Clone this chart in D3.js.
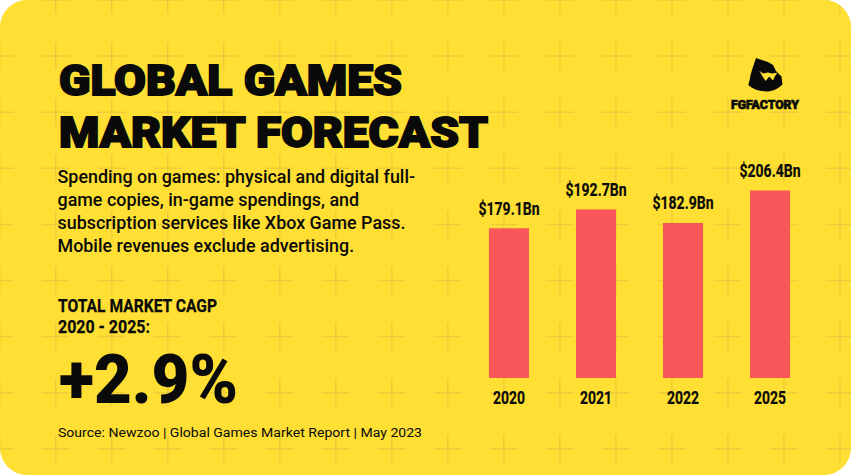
<!DOCTYPE html>
<html><head><meta charset="utf-8">
<script src="https://cdn.jsdelivr.net/npm/d3@7/dist/d3.min.js"></script>
<style>html,body{margin:0;padding:0;background:#fff}svg{display:block}</style>
</head><body><svg id="c" width="851" height="475"></svg>
<script>
const years = ["2020","2021","2022","2025"];
const values = [179.1,192.7,182.9,206.4];
const valueLabels = ["$179.1Bn","$192.7Bn","$182.9Bn","$206.4Bn"];
const titleLines = ["GLOBAL GAMES","MARKET FORECAST"];
const bodyLines = ["Spending on games: physical and digital full-","game copies, in-game spendings, and","subscription services like Xbox Game Pass.","Mobile revenues exclude advertising."];
const cagpLines = ["TOTAL MARKET CAGP","2020 - 2025:"];
const cagpValue = "+2.9%";
const source = "Source: Newzoo | Global Games Market Report | May 2023";
const brand = "FGFACTORY";

const svg = d3.select("#c");
svg.append("clipPath").attr("id","panel").append("rect").attr("width",851).attr("height",475).attr("rx",27);
svg.append("rect").attr("width",851).attr("height",475).attr("rx",27).attr("fill","#FFDF33");
const grid = svg.append("g").attr("clip-path","url(#panel)").attr("stroke","#EDCC3A").attr("stroke-width",1.5).attr("fill","none");
d3.range(0,16).forEach(i=>d3.range(0,9).forEach(j=>{
  const cx=-0.3+56.02*i, cy=0+56.1*j;
  grid.append("path").attr("d",`M${cx-14},${cy}H${cx+14}M${cx},${cy-14}V${cy+14}`);
}));

const font="Roboto, sans-serif";
const ink="#0a0a0a";
function txt(s,x,y,size,weight,len,anchor,stroke){
  const t=svg.append("text").attr("x",x).attr("y",y).attr("font-family",font).attr("font-size",size)
    .attr("font-weight",weight).attr("fill",ink).attr("text-anchor",anchor||"start").text(s);
  if(len) t.attr("textLength",len).attr("lengthAdjust","spacingAndGlyphs");
  if(stroke) t.attr("stroke",ink).attr("stroke-width",stroke).attr("stroke-linejoin","miter");
  return t;
}
txt(titleLines[0],59,94.5,43,900,343,"start",1.8);
txt(titleLines[1],59,146.5,43,900,429,"start",1.8);
bodyLines.forEach((l,i)=>txt(l,57.5,183+i*23,17.9,500));
cagpLines.forEach((l,i)=>txt(l,58,312+i*21,18,700,i==0?159:92,"start",0.25));
txt(cagpValue,59,402.5,68,900,179);
txt(source,58,437,13.6,400,364);

const x=d3.scaleBand().domain(years).range([465.5,813.5]).paddingInner(0.54).paddingOuter(0.27);
const y=d3.scaleLinear().domain([70.8,206.4]).range([378,190.5]);
svg.selectAll("rect.bar").data(values).join("rect").attr("class","bar")
 .attr("x",(d,i)=>x(years[i])).attr("width",x.bandwidth())
 .attr("y",d=>y(d)).attr("height",d=>y(70.8)-y(d)).attr("fill","#F9575A");
values.forEach((d,i)=>{
  txt(valueLabels[i],x(years[i])+x.bandwidth()/2,y(d)-13.5,18,700,61,"middle",0.2);
  txt(years[i],x(years[i])+x.bandwidth()/2,404,18,700,32,"middle",0.2);
});
// logo
const logo=svg.append("g");
logo.append("path").attr("fill",ink).attr("d","M756,58 L768,62 L773,65 L776,71 L781.5,76.5 L782.5,84.5 C778,89 772,91.5 766.5,91.5 C759,91 752,89 748.3,85 C749.5,81 750,78 750.5,75 C752,70 753.5,65 756,58Z");
logo.append("path").attr("fill","#FFDF33").attr("d","M759.3,70.7 L763,73.5 L768,72.5 L772,73.5 L777.5,72.7 L775,76 L773,80.5 L769.3,76.5 L765.5,81 L762,75.5Z");
txt(brand,765,108.8,12.7,900,68,"middle",0.7);
</script></body></html>
